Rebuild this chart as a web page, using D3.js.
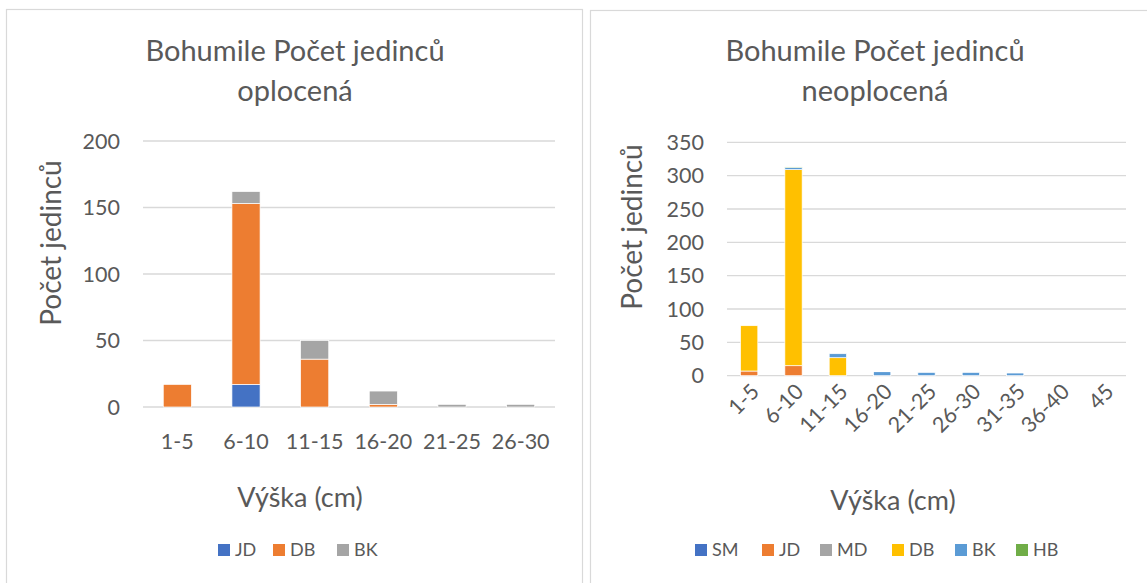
<!DOCTYPE html>
<html><head><meta charset="utf-8">
<script src="https://cdn.jsdelivr.net/npm/d3@7"></script>
<style>body{margin:0;background:#fff;} text{font-family:Lato,"Open Sans",sans-serif;fill:#595959;}</style>
</head><body>
<svg id="c" width="1147" height="583"></svg>
<script>
// Left chart data (oplocená)
const leftCategories = ["1-5","6-10","11-15","16-20","21-25","26-30"];
const leftSeriesNames = ["JD","DB","BK"];
const leftJD = [0,17,0,0,0,0];
const leftDB = [17,136,36,2,0,0];
const leftBK = [0,9,14,10,2,2];
const leftColors = ["#4472C4","#ED7D31","#A5A5A5"];
const leftTicks = [0,50,100,150,200];

// Right chart data (neoplocená)
const rightCategories = ["1-5","6-10","11-15","16-20","21-25","26-30","31-35","36-40","45"];
const rightSeriesNames = ["SM","JD","MD","DB","BK","HB"];
const rightSM = [0,0,0,0,0,0,0,0,0];
const rightJD = [7,15,0,0,0,0,0,0,0];
const rightMD = [0,0,0,0,0,0,0,0,0];
const rightDB = [68,294,27,0,0,0,0,0,0];
const rightBK = [0,3,6,6,5,5,4,0,0];
const rightHB = [0,1,0,1,0,0,0,0,0];
const rightColors = ["#4472C4","#ED7D31","#A5A5A5","#FFC000","#5B9BD5","#70AD47"];
const rightTicks = [0,50,100,150,200,250,300,350];

const svg = d3.select("#c");

// panel borders
svg.append("rect").attr("x",6.5).attr("y",9.5).attr("width",576).attr("height",620)
  .attr("fill","none").attr("stroke","#D9D9D9").attr("stroke-width",1.2);
svg.append("rect").attr("x",590.5).attr("y",10.5).attr("width",620).attr("height",620)
  .attr("fill","none").attr("stroke","#D9D9D9").attr("stroke-width",1.2);

function drawChart(cfg){
  const g = svg.append("g");
  const rows = cfg.categories.map((c,i)=>{
    const r = {cat:c};
    cfg.names.forEach((n,k)=> r[n] = cfg.series[k][i]);
    return r;
  });
  const x = d3.scaleBand().domain(cfg.categories).range([cfg.x0,cfg.x1]).paddingInner(cfg.pad).paddingOuter(cfg.pad/2);
  const y = d3.scaleLinear().domain([0,cfg.ymax]).range([cfg.y0,cfg.y1]);
  // gridlines
  g.selectAll("line.grid").data(cfg.ticks).join("line")
    .attr("x1",cfg.x0).attr("x2",cfg.x1)
    .attr("y1",d=>y(d)).attr("y2",d=>y(d))
    .attr("stroke","#D9D9D9").attr("stroke-width",1.3);
  // y tick labels
  g.selectAll("text.yt").data(cfg.ticks).join("text")
    .attr("x",cfg.x0-23).attr("y",d=>y(d)).attr("dy","0.35em")
    .attr("text-anchor","end").attr("font-size",21.5).text(d=>d);
  // bars
  const stack = d3.stack().keys(cfg.names)(rows);
  stack.forEach((s,k)=>{
    g.append("g").selectAll("rect").data(s).join("rect")
      .attr("x",d=>x(d.data.cat)).attr("width",x.bandwidth())
      .attr("y",d=>y(d[1])).attr("height",d=>Math.max(0,y(d[0])-y(d[1])))
      .attr("fill",cfg.colors[k])
      .attr("stroke","#fff").attr("stroke-width",d=> (d[1]-d[0])>0?0.7:0)
      .attr("display",d=>(d[1]-d[0])>0?null:"none");
  });
  // x labels
  if(cfg.rotate){
    g.selectAll("text.xt").data(cfg.categories).join("text")
      .attr("transform",d=>`translate(${x(d)+x.bandwidth()/2+6},${cfg.y0+12}) rotate(-45)`)
      .attr("text-anchor","end").attr("dy","0.35em").attr("font-size",21.5).text(d=>d);
  } else {
    g.selectAll("text.xt").data(cfg.categories).join("text")
      .attr("x",d=>x(d)+x.bandwidth()/2).attr("y",cfg.y0+42)
      .attr("text-anchor","middle").attr("font-size",21.5).text(d=>d);
  }
  // title
  cfg.title.forEach((t,i)=>{
    g.append("text").attr("x",cfg.cx).attr("y",cfg.titleY+i*40)
      .attr("text-anchor","middle").attr("font-size",29).text(t);
  });
  // y axis title
  g.append("text").attr("transform",`translate(${cfg.yTitleX},${cfg.yTitleY}) rotate(-90)`)
    .attr("text-anchor","middle").attr("font-size",28).text("Počet jedinců");
  // x axis title
  g.append("text").attr("x",cfg.xTitleX).attr("y",cfg.xTitleY)
    .attr("text-anchor","middle").attr("font-size",27).text("Výška (cm)");
  // legend
  cfg.names.forEach((n,k)=>{
    const lx = cfg.legendX[k];
    g.append("rect").attr("x",lx).attr("y",544).attr("width",12).attr("height",12).attr("fill",cfg.colors[k]);
    g.append("text").attr("x",lx+17).attr("y",550).attr("dy","0.35em").attr("font-size",18).text(n);
  });
}

drawChart({
  categories:leftCategories, names:leftSeriesNames, series:[leftJD,leftDB,leftBK],
  colors:leftColors, ticks:leftTicks, ymax:200,
  x0:143, x1:555, y0:407, y1:141, pad:0.59, rotate:false,
  title:["Bohumile Počet jedinců","oplocená"], cx:295, titleY:61,
  yTitleX:61, yTitleY:243, xTitleX:300, xTitleY:507,
  legendX:[218,273,337]
});

drawChart({
  categories:rightCategories, names:rightSeriesNames,
  series:[rightSM,rightJD,rightMD,rightDB,rightBK,rightHB],
  colors:rightColors, ticks:rightTicks, ymax:350,
  x0:727, x1:1126, y0:375.7, y1:142.3, pad:0.61, rotate:true,
  title:["Bohumile Počet jedinců","neoplocená"], cx:875, titleY:61,
  yTitleX:642, yTitleY:227, xTitleX:893, xTitleY:510,
  legendX:[695,762,820,892,955,1016]
});
</script>
</body></html>
